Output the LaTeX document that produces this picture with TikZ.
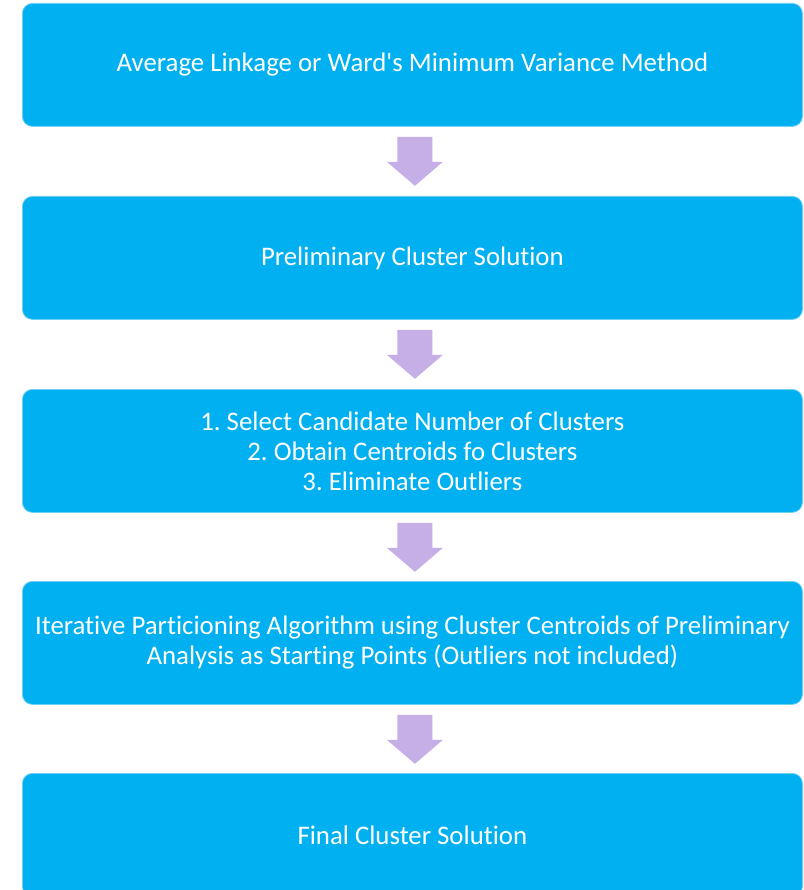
\documentclass[tikz,border=0pt]{standalone}
\usepackage{fontspec}
\setmainfont{Carlito}[Ligatures={TeXOff,NoCommon}]
\frenchspacing
\definecolor{boxblue}{HTML}{00B0F0}
\definecolor{boxedge}{HTML}{6FD0F5}
\definecolor{arrowlilac}{HTML}{C6AFE6}
\begin{document}
\begin{tikzpicture}[x=1pt,y=-1pt,
  stepbox/.style={fill=boxblue,draw=boxedge,line width=0.8pt,rounded corners=10pt,
    minimum width=780pt,minimum height=123pt,anchor=north west,inner sep=0pt,
    text=white,font=\fontsize{26.8}{30}\selectfont,align=center},
  downarrow/.style={fill=arrowlilac,draw=none}]
\useasboundingbox (0,0) rectangle (803,890);
\fill[white] (0,0) rectangle (803,890);
\node[stepbox] (b1) at (22,3) {Average Linkage or Ward's Minimum Variance Method};
\node[stepbox] (b2) at (22,196) {Preliminary Cluster Solution};
\node[stepbox] (b3) at (22,389) {1. Select Candidate Number of Clusters\\2. Obtain Centroids fo Clusters\\3. Eliminate Outliers};
\node[stepbox] (b4) at (22,581) {Iterative Particioning Algorithm using Cluster Centroids of Preliminary\\Analysis as Starting Points (Outliers not included)};
\node[stepbox] (b5) at (22,773) {Final Cluster Solution};
% block arrows hanging below each box
\foreach \b in {b1,b2,b3,b4}{
  \fill[downarrow] ([xshift=2.5pt,yshift=-10pt]\b.south)
    ++(-17.5,0) -- ++(35,0) -- ++(0,25) -- ++(10.5,0) -- ++(-28,24)
    -- ++(-28,-24) -- ++(10.5,0) -- cycle;
}
\end{tikzpicture}
\end{document}
